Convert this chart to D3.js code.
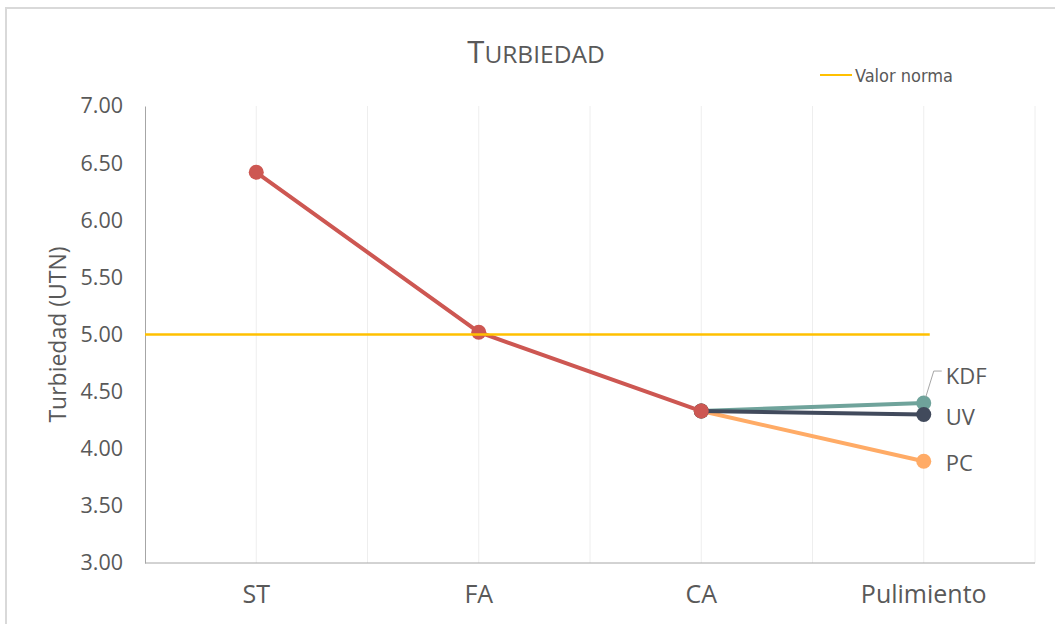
<!DOCTYPE html>
<html>
<head>
<meta charset="utf-8">
<script src="https://cdn.jsdelivr.net/npm/d3@7"></script>
<style>
  body { margin: 0; background: #fff; }
  text { font-family: "Open Sans", "Noto Sans", sans-serif; fill: #595959; }
</style>
</head>
<body>
<div id="chart"></div>
<script>
'use strict';

// data
const categories = ["ST", "FA", "CA", "Pulimiento"];
const mainValues = [6.42, 5.02, 4.33];          // ST, FA, CA
const kdfValues = [4.33, 4.40];                  // CA -> Pulimiento
const uvValues = [4.33, 4.30];
const pcValues = [4.33, 3.89];
const normaValue = 5.00;
const yTicks = [3.00, 3.50, 4.00, 4.50, 5.00, 5.50, 6.00, 6.50, 7.00];

const W = 1055, H = 624;
const margin = {top: 106, right: 20, bottom: 61, left: 145};
const plotRight = 1035;

const svg = d3.select("#chart").append("svg")
    .attr("width", W).attr("height", H);

// chart frame (cut off at right and bottom like the screenshot)
svg.append("path")
    .attr("d", "M6,624 V8 H1055")
    .attr("fill", "none").attr("stroke", "#d9d9d9").attr("stroke-width", 2);

const x = d3.scaleBand().domain(categories).range([margin.left, plotRight]);
const y = d3.scaleLinear().domain([3, 7]).range([H - margin.bottom, margin.top]);
const cx = c => x(c) + x.bandwidth() / 2;

// vertical gridlines at category centers and boundaries
const gridX = [];
categories.forEach(c => { gridX.push(cx(c)); gridX.push(x(c) + x.bandwidth()); });
svg.append("g").selectAll("line").data(gridX).enter().append("line")
    .attr("x1", d => d).attr("x2", d => d)
    .attr("y1", y(7)).attr("y2", y(3))
    .attr("stroke", "#eeeeee").attr("stroke-width", 1);

// axes
const yAxis = svg.append("g")
    .attr("transform", "translate(" + margin.left + ",0)")
    .call(d3.axisLeft(y).tickValues(yTicks).tickFormat(d3.format(".2f")).tickSize(0).tickPadding(22));
yAxis.select(".domain").attr("stroke", "#a6a6a6");
yAxis.selectAll("text").style("font-size", "21.5px").attr("fill", "#595959")
    .style("font-family", "'Open Sans', sans-serif");

const xAxis = svg.append("g")
    .attr("transform", "translate(0," + y(3) + ")")
    .call(d3.axisBottom(x).tickSize(0).tickPadding(22));
xAxis.select(".domain").attr("stroke", "#a6a6a6").attr("d", "M" + margin.left + ",0H" + plotRight);
xAxis.selectAll("text").style("font-size", "25px").attr("fill", "#595959")
    .style("font-family", "'Open Sans', sans-serif");

// title with small caps look
const title = svg.append("text")
    .attr("x", 536).attr("y", 63)
    .attr("text-anchor", "middle");
title.append("tspan").style("font-size", "31px").text("T");
title.append("tspan").style("font-size", "24.5px").text("URBIEDAD");

// y-axis title
svg.append("text")
    .attr("transform", "translate(66," + y(5) + ") rotate(-90)")
    .attr("text-anchor", "middle")
    .style("font-size", "23px")
    .text("Turbiedad (UTN)");

// legend
svg.append("line")
    .attr("x1", 820).attr("x2", 852).attr("y1", 75).attr("y2", 75)
    .attr("stroke", "#ffc000").attr("stroke-width", 2);
svg.append("text")
    .attr("x", 855).attr("y", 82)
    .style("font-size", "18px")
    .style("font-family", "'DejaVu Sans Condensed', 'DejaVu Sans', sans-serif")
    .text("Valor norma");

const line = d3.line().x(d => cx(d.c)).y(d => y(d.v));

function drawSeries(cats, vals, color) {
    const pts = cats.map((c, i) => ({c: c, v: vals[i]}));
    svg.append("path").datum(pts)
        .attr("d", line)
        .attr("fill", "none").attr("stroke", color)
        .attr("stroke-width", 4).attr("stroke-linejoin", "round");
    svg.append("g").selectAll("circle").data(pts).enter().append("circle")
        .attr("cx", d => cx(d.c)).attr("cy", d => y(d.v))
        .attr("r", 7.5).attr("fill", color);
}

drawSeries(["CA", "Pulimiento"], pcValues, "#ffab66");
drawSeries(["CA", "Pulimiento"], kdfValues, "#6fa39b");
drawSeries(["CA", "Pulimiento"], uvValues, "#414a5c");
drawSeries(["ST", "FA", "CA"], mainValues, "#cd5752");

// valor norma line on top
svg.append("line")
    .attr("x1", margin.left).attr("x2", cx("Pulimiento") + 6)
    .attr("y1", y(normaValue)).attr("y2", y(normaValue))
    .attr("stroke", "#ffc000").attr("stroke-width", 2.5);

// end labels
const endLabels = [
    {name: "KDF", v: kdfValues[1], dy: -27},
    {name: "UV", v: uvValues[1], dy: 3},
    {name: "PC", v: pcValues[1], dy: 2}
];
const px = cx("Pulimiento");
svg.append("path")
    .attr("d", "M" + (px + 2) + "," + (y(kdfValues[1]) - 6) + "L" + (px + 10) + "," + (y(kdfValues[1]) - 32) + "H" + (px + 18))
    .attr("fill", "none").attr("stroke", "#a6a6a6").attr("stroke-width", 1);
svg.append("g").selectAll("text").data(endLabels).enter().append("text")
    .attr("x", px + 22)
    .attr("y", d => y(d.v) + d.dy + 8)
    .style("font-size", "22px")
    .text(d => d.name);
</script>
</body>
</html>
